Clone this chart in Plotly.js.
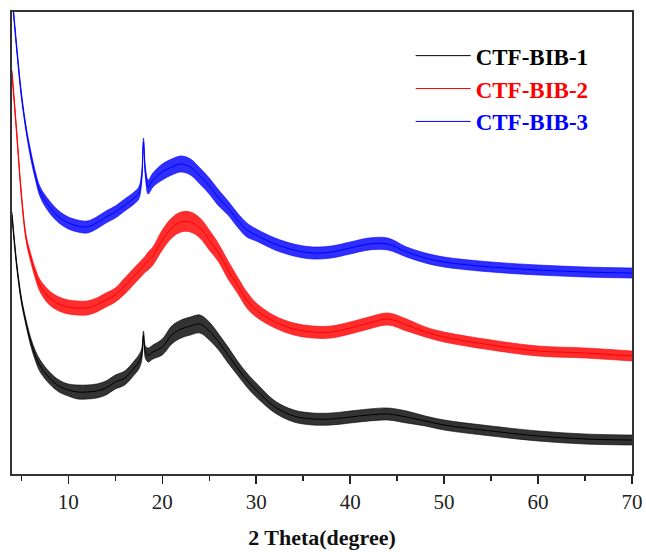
<!DOCTYPE html>
<html>
<head>
<meta charset="utf-8">
<script src="https://cdn.plot.ly/plotly-3.0.1.min.js"></script>
<style>
  html, body { margin: 0; padding: 0; background: #fff; }
  #chart { width: 646px; height: 552px; }
</style>
</head>
<body>
<div id="chart"></div>
<script>
// 2θ positions (degree) at which the patterns were read
const twoTheta = [4, 4.5, 5, 5.5, 6, 6.5, 7, 8, 9, 10, 11, 12, 13, 14, 15, 16, 17, 17.5, 17.8, 18, 18.2, 18.5, 19,
  20, 21, 22, 23, 24, 25, 26, 27, 28, 29, 30, 32, 34, 36, 38, 40, 42, 44, 46, 48, 50, 55, 60, 65, 70];

// Intensity (a.u., curves stacked as in the figure) – mean trace
const ctfBib1 = [259, 209, 174, 151, 132, 118, 108, 96, 88, 84, 82, 82, 83, 86, 92, 96, 106, 112, 119, 139, 122, 119, 122,
  127, 139, 145, 148, 150, 143, 132, 119, 106, 94, 84, 67, 58, 55, 55, 57, 59, 60, 57, 53, 49, 43, 38, 35, 34];
const ctfBib2 = [401, 341, 279, 236, 216, 200, 188, 176, 170, 167, 166, 166, 169, 174, 179, 188, 198, 203, 206, 208, 210, 213, 218,
  234, 246, 252, 252, 246, 234, 221, 204, 189, 174, 164, 152, 145, 142, 142, 146, 151, 155, 149, 142, 137, 129, 123, 121, 118];
const ctfBib3 = [479, 426, 379, 345, 319, 298, 282, 267, 257, 251, 248, 247, 251, 257, 262, 269, 276, 281, 296, 332, 302, 287, 294,
  302, 307, 310, 307, 298, 288, 276, 266, 254, 244, 239, 230, 224, 221, 222, 226, 230, 230, 222, 216, 212, 207, 204, 202, 201];

// Noise half-amplitude of each pattern (a.u.)
const noise1 = [3, 3, 3, 3, 4, 5, 6, 6, 6, 6, 7, 7, 7, 7, 7, 7, 7, 7, 6, 4, 6, 7, 7,
  8, 9, 9, 9, 9, 9, 8, 8, 7, 7, 7, 6, 6, 6, 6, 6, 6, 6, 6, 5, 5, 5, 5, 5, 5];
const noise2 = [3, 3, 3, 3, 4, 5, 6, 7, 7, 7, 7, 7, 7, 7, 7, 8, 8, 8, 8, 8, 8, 9, 9,
  10, 10, 10, 10, 10, 10, 9, 9, 8, 8, 7, 6, 6, 6, 6, 6, 6, 6, 6, 5, 5, 5, 5, 5, 5];
const noise3 = [3, 3, 3, 3, 4, 4, 5, 6, 6, 6, 6, 6, 6, 6, 6, 6, 6, 6, 5, 4, 5, 7, 7,
  8, 8, 8, 8, 8, 8, 8, 7, 7, 7, 6, 6, 6, 6, 6, 6, 6, 6, 5, 5, 5, 5, 5, 5, 5];

const seriesNames = ['CTF-BIB-1', 'CTF-BIB-2', 'CTF-BIB-3'];
const xTicks = [10, 20, 30, 40, 50, 60, 70];

const series = [ctfBib1, ctfBib2, ctfBib3];
const noises = [noise1, noise2, noise3];
const colors = ['#000000', '#ff0000', '#0000ff'];
const fills = ['rgba(0,0,0,0.8)', 'rgba(255,0,0,0.82)', 'rgba(0,0,255,0.82)'];
const serif = 'Liberation Serif, Times New Roman, serif';

const traces = [];
series.forEach((vals, i) => {
  const up = vals.map((v, k) => v + noises[i][k]);
  const lo = vals.map((v, k) => v - noises[i][k]);
  traces.push({
    type: 'scatter', mode: 'lines', x: twoTheta, y: lo,
    line: { color: colors[i], width: 0.6, shape: 'spline', smoothing: 1 },
    showlegend: false, hoverinfo: 'skip'
  });
  traces.push({
    type: 'scatter', mode: 'lines', x: twoTheta, y: up,
    fill: 'tonexty', fillcolor: fills[i],
    line: { color: colors[i], width: 0.6, shape: 'spline', smoothing: 1 },
    showlegend: false, hoverinfo: 'skip'
  });
});
series.forEach((vals, i) => {
  traces.push({
    type: 'scatter', mode: 'lines',
    x: twoTheta, y: vals,
    name: '<b><span style="color:' + colors[i] + '">' + seriesNames[i] + '</span></b>',
    line: { color: colors[i], width: 1, shape: 'spline', smoothing: 1 }
  });
});

const layout = {
  width: 646, height: 552,
  margin: { l: 12, r: 14, t: 12, b: 78 },
  paper_bgcolor: '#ffffff', plot_bgcolor: '#ffffff',
  showlegend: true,
  legend: {
    x: 0.643, xanchor: 'left', y: 0.952, yanchor: 'top',
    traceorder: 'normal',
    bgcolor: 'rgba(0,0,0,0)', borderwidth: 0,
    font: { family: serif, size: 23, color: '#000' },
    itemwidth: 55
  },
  xaxis: {
    range: [4, 70], tickvals: xTicks, ticktext: xTicks.map(String),
    ticks: 'outside', ticklen: 8, tickwidth: 1.5, tickcolor: '#222',
    minor: { dtick: 5, tick0: 0, ticks: 'outside', ticklen: 5, tickwidth: 1.5, tickcolor: '#222' },
    showline: true, linecolor: '#333', linewidth: 2, mirror: true,
    showgrid: false, zeroline: false,
    tickfont: { family: serif, size: 21, color: '#222' },
    title: { text: '<b>2 Theta(degree)</b>', font: { family: serif, size: 22, color: '#111' }, standoff: 16 }
  },
  yaxis: {
    range: [0, 462], showticklabels: false, ticks: '',
    showline: true, linecolor: '#333', linewidth: 2, mirror: true,
    showgrid: false, zeroline: false
  }
};

Plotly.newPlot('chart', traces, layout, { displayModeBar: false, staticPlot: true });
</script>
</body>
</html>
